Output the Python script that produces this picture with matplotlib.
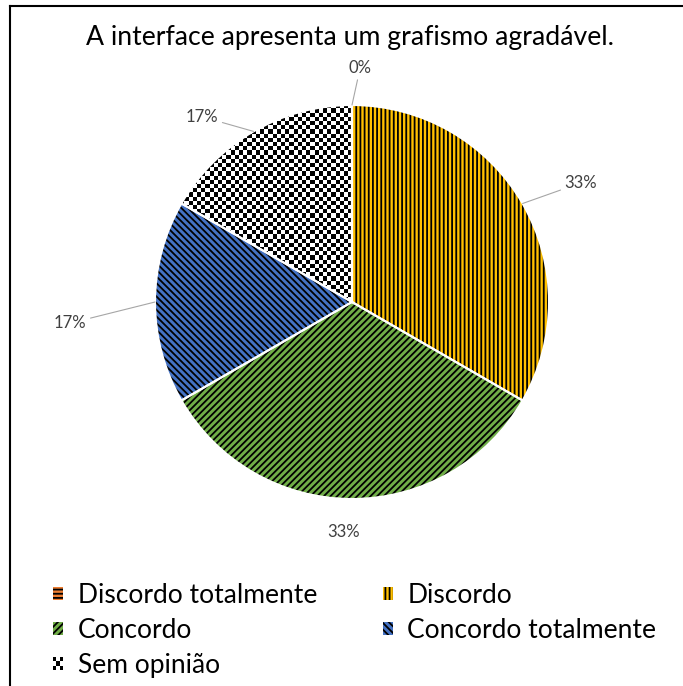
import numpy as np
import matplotlib as mpl

mpl.use('agg')

import matplotlib.pyplot as plt
from matplotlib.patches import Rectangle
from matplotlib.lines import Line2D
from matplotlib.legend_handler import HandlerBase

## chart data
title = 'A interface apresenta um grafismo agradável.'
categories = ['Discordo totalmente', 'Discordo', 'Concordo', 'Concordo totalmente', 'Sem opinião']
counts = [0, 2, 2, 1, 1]
pct_labels = ['0%', '33%', '33%', '17%', '17%']

## styling
colors = ['#ED7D31', '#FFC000', '#70AD47', '#4472C4', '#FFFFFF']
hatches = ['----', '||||', '/////', '\\' * 5, None]
# label placement (radius factor, angle in degrees), leader line on/off
label_pos = [(1.19, 88), (1.31, 27.5), (1.17, -92), (1.435, 184.3), (1.21, 129)]
leader = [True, True, False, True, True]

plt.rcParams['font.family'] = ['Lato', 'DejaVu Sans']
plt.rcParams['hatch.linewidth'] = 1.3

W, H = 683, 686
cx, cy, R = 352, 302, 197  # pie centre and radius in pixels (from top-left)

fig = plt.figure(figsize=(W / 100, H / 100), dpi=100)
ax = fig.add_axes([0, 0, 1, 1])

# filled + hatched wedges (edgecolor black -> hatch colour black)
wedges, _ = ax.pie(counts, colors=colors, startangle=90, counterclock=False,
                   wedgeprops=dict(linewidth=0, edgecolor='black'))
for w, h in zip(wedges, hatches):
    if h:
        w.set_hatch(h)

# checkerboard for "Sem opinião"
cell = 4.2 / R
n = int(2 / cell) + 2
checker = np.add.outer(np.arange(n), np.arange(n)) % 2
im = ax.imshow(checker, cmap='gray', extent=(-1, -1 + n * cell, -1, -1 + n * cell),
               interpolation='nearest', zorder=1.5)
im.set_clip_path(wedges[4])

# white separators between slices
ax.pie(counts, colors=['none'] * len(counts), startangle=90, counterclock=False,
       wedgeprops=dict(linewidth=1.5, edgecolor='white', zorder=2))

# percentage labels with grey leader lines
for w, txt, (rf, ang), ld in zip(wedges, pct_labels, label_pos, leader):
    mid = np.deg2rad((w.theta1 + w.theta2) / 2)
    tx, ty = rf * np.cos(np.deg2rad(ang)), rf * np.sin(np.deg2rad(ang))
    if ld:
        ax.annotate(txt, xy=(np.cos(mid), np.sin(mid)), xytext=(tx, ty),
                    ha='center', va='center', fontsize=12, color='#404040',
                    arrowprops=dict(arrowstyle='-', color='#A6A6A6', lw=0.8,
                                    shrinkA=1, shrinkB=0))
    else:
        ax.text(tx, ty, txt, ha='center', va='center', fontsize=12, color='#404040')

ax.set_xlim(-cx / R, (W - cx) / R)
ax.set_ylim(-(H - cy) / R, cy / R)
ax.set_aspect('auto')
ax.set_axis_off()

fig.text(350 / W, 1 - 38 / H, title, ha='center', va='center', fontsize=19.2, color='black')


## legend marker for the checkerboard slice
class CheckerHandler(HandlerBase):
    def create_artists(self, legend, orig_handle, xdescent, ydescent,
                       width, height, fontsize, trans):
        k = 3
        arts = []
        for i in range(k):
            for j in range(k):
                if (i + j) % 2 == 0:
                    arts.append(Rectangle((-xdescent + i * width / k, -ydescent + j * height / k),
                                          width / k, height / k, facecolor='black',
                                          edgecolor='none', transform=trans))
        return arts


order = [0, 2, 4, 1, 3]
fig.legend([wedges[i] for i in order], [categories[i] for i in order],
           ncol=2, loc='upper left', bbox_to_anchor=(53 / W, 1 - 583 / H),
           frameon=False, fontsize=19, borderpad=0, borderaxespad=0,
           handlelength=0.38, handleheight=0.38, handletextpad=0.55,
           columnspacing=2.5, labelspacing=0.38,
           handler_map={wedges[4]: CheckerHandler()})

## cropped chart border
fig.add_artist(Line2D([9.5 / W, 9.5 / W], [0, 1 - 6 / H], color='black', lw=1.5))
fig.add_artist(Line2D([9.5 / W, 1], [1 - 6 / H, 1 - 6 / H], color='black', lw=1.5))

fig.savefig('out.png', dpi=100)
